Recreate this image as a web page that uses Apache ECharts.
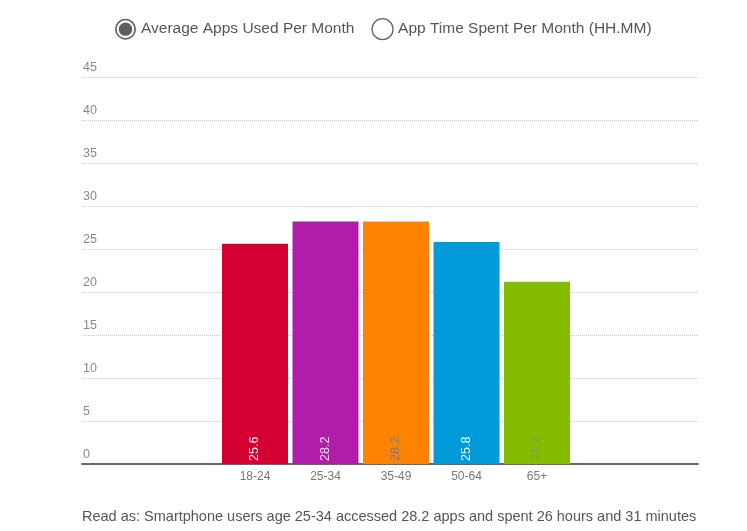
<!DOCTYPE html>
<html>
<head>
    <meta charset="UTF-8">
    <title>Average Apps Used Per Month</title>
    <script src="https://cdn.jsdelivr.net/npm/echarts@6/dist/echarts.min.js"></script>
    <style>
        body { margin: 0; background: #fff; }
        #main { width: 747px; height: 531px; }
    </style>
</head>
<body>
<div id="main"></div>

<script type="text/javascript">
    // data
    var ageGroups = ['18-24', '25-34', '35-49', '50-64', '65+'];
    var appsUsed = [25.6, 28.2, 28.2, 25.8, 21.2];
    var barColors = ['#d50032', '#b01dab', '#ff8300', '#009ad8', '#84bd00'];
    var labelColors = ['#ffffff', '#f6d8f4', '#8a7a6a', '#ffffff', '#7f9a60'];
    var timeSpent = []; // second series is not drawn in this view
    var yTicks = {min: 0, max: 45, step: 5};

    var myChart = echarts.init(document.getElementById('main'));

    // radio-button look for the legend: ring + filled dot
    var radioOn = 'path://M10,0A10,10 0 1,1 10,20A10,10 0 1,1 10,0Z' +
        'M10,1.6A8.4,8.4 0 1,0 10,18.4A8.4,8.4 0 1,0 10,1.6Z' +
        'M10,3.6A6.4,6.4 0 1,1 10,16.4A6.4,6.4 0 1,1 10,3.6Z';

    var barData = appsUsed.map(function (v, i) {
        return {
            value: v,
            itemStyle: {color: barColors[i]},
            label: {color: labelColors[i]}
        };
    });

    var option = {
        animation: false,
        textStyle: {fontFamily: 'Liberation Sans, Arial, sans-serif'},
        title: {
            text: 'Read as: Smartphone users age 25-34 accessed 28.2 apps and spent 26 hours and 31 minutes',
            left: 82,
            top: 509,
            padding: 0,
            textStyle: {fontSize: 14.5, fontWeight: 'normal', color: '#555'}
        },
        legend: {
            left: 110,
            top: 13,
            itemWidth: 21,
            itemHeight: 21,
            itemGap: 17,
            selectedMode: false,
            textStyle: {fontSize: 15.5, color: '#555'},
            data: [
                {
                    name: 'Average Apps Used Per Month',
                    icon: radioOn,
                    itemStyle: {color: '#5f5f5f', borderWidth: 0}
                },
                {
                    name: 'App Time Spent Per Month (HH.MM)',
                    icon: 'circle',
                    itemStyle: {color: '#fff', borderColor: '#666', borderWidth: 1.3}
                }
            ]
        },
        grid: [
            {left: 82, right: 49, top: 77, height: 387},
            {left: 219.75, width: 352.5, top: 77, height: 387}
        ],
        xAxis: [
            {
                gridIndex: 0,
                type: 'category',
                data: [''],
                axisLine: {lineStyle: {color: '#666', width: 2}},
                axisTick: {show: false},
                axisLabel: {show: false}
            },
            {
                gridIndex: 1,
                type: 'category',
                data: ageGroups,
                axisLine: {show: false},
                axisTick: {show: false},
                axisLabel: {color: '#777', fontSize: 12, margin: 7}
            }
        ],
        yAxis: [
            {
                gridIndex: 0,
                type: 'value',
                min: yTicks.min,
                max: yTicks.max,
                interval: yTicks.step,
                axisLine: {show: false},
                axisTick: {show: false},
                axisLabel: {
                    inside: true,
                    margin: 1,
                    color: '#888',
                    fontSize: 12.5,
                    verticalAlign: 'bottom',
                    padding: [0, 0, 3, 0]
                },
                splitLine: {lineStyle: {color: '#c8c8c8', type: 'dotted'}}
            },
            {
                gridIndex: 1,
                type: 'value',
                min: yTicks.min,
                max: yTicks.max,
                interval: yTicks.step,
                show: false
            }
        ],
        series: [
            {
                name: 'Average Apps Used Per Month',
                type: 'bar',
                xAxisIndex: 1,
                yAxisIndex: 1,
                barWidth: 66,
                data: barData,
                label: {
                    show: true,
                    position: 'insideBottom',
                    rotate: 90,
                    align: 'left',
                    verticalAlign: 'middle',
                    distance: 3,
                    fontSize: 12.5
                }
            },
            {
                name: 'App Time Spent Per Month (HH.MM)',
                type: 'line',
                xAxisIndex: 1,
                yAxisIndex: 1,
                data: timeSpent
            }
        ]
    };

    myChart.setOption(option);
</script>
</body>
</html>
